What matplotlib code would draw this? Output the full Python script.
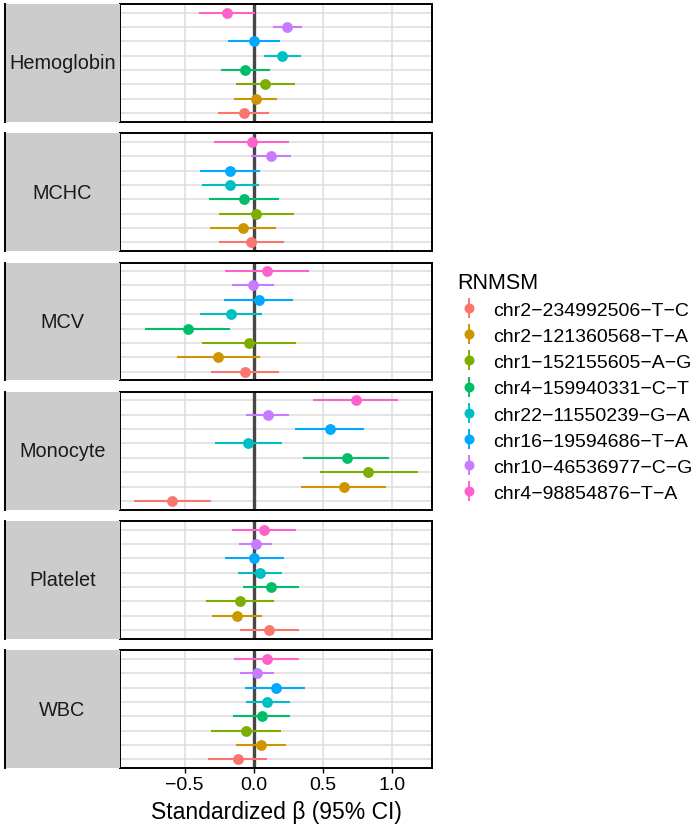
import numpy as np
import matplotlib
matplotlib.use('Agg')
import matplotlib.pyplot as plt
from matplotlib.lines import Line2D
from matplotlib.legend_handler import HandlerTuple

plt.rcParams['font.family'] = ['Liberation Sans', 'DejaVu Sans']

# rasgos (facetas) y variantes, de abajo hacia arriba dentro de cada panel
traits = ['Hemoglobin', 'MCHC', 'MCV', 'Monocyte', 'Platelet', 'WBC']
snps = ['chr2\u2212234992506\u2212T\u2212C', 'chr2\u2212121360568\u2212T\u2212A',
        'chr1\u2212152155605\u2212A\u2212G', 'chr4\u2212159940331\u2212C\u2212T',
        'chr22\u221211550239\u2212G\u2212A', 'chr16\u221219594686\u2212T\u2212A',
        'chr10\u221246536977\u2212C\u2212G', 'chr4\u221298854876\u2212T\u2212A']
colores = ['#F8766D', '#CD9600', '#7CAE00', '#00BE67',
           '#00BFC4', '#00A9FF', '#C77CFF', '#FF61CC']

# beta estandarizado, una fila por rasgo, una columna por variante
beta = [
    [-0.072, 0.012, 0.079, -0.063, 0.204, 0.000, 0.240, -0.195],
    [-0.019, -0.079, 0.017, -0.072, -0.171, -0.171, 0.123, -0.017],
    [-0.065, -0.260, -0.034, -0.474, -0.166, 0.034, -0.005, 0.094],
    [-0.589, 0.647, 0.827, 0.669, -0.043, 0.546, 0.099, 0.738],
    [0.111, -0.125, -0.099, 0.123, 0.043, 0.000, 0.012, 0.072],
    [-0.115, 0.053, -0.058, 0.055, 0.096, 0.156, 0.024, 0.094],
]
ic_inf = [
    [-0.257, -0.144, -0.132, -0.238, 0.072, -0.185, 0.139, -0.394],
    [-0.253, -0.315, -0.255, -0.325, -0.375, -0.390, -0.024, -0.289],
    [-0.313, -0.556, -0.373, -0.784, -0.387, -0.216, -0.156, -0.207],
    [-0.863, 0.339, 0.474, 0.354, -0.284, 0.296, -0.055, 0.430],
    [-0.103, -0.301, -0.344, -0.082, -0.113, -0.207, -0.106, -0.156],
    [-0.332, -0.132, -0.310, -0.154, -0.060, -0.063, -0.101, -0.142],
]
ic_sup = [
    [0.108, 0.168, 0.296, 0.113, 0.342, 0.188, 0.346, 0.007],
    [0.214, 0.159, 0.286, 0.178, 0.036, 0.046, 0.265, 0.250],
    [0.183, 0.043, 0.301, -0.171, 0.055, 0.279, 0.147, 0.397],
    [-0.313, 0.955, 1.183, 0.979, 0.200, 0.798, 0.250, 1.037],
    [0.322, 0.055, 0.147, 0.322, 0.200, 0.214, 0.132, 0.301],
    [0.096, 0.231, 0.192, 0.260, 0.257, 0.368, 0.144, 0.325],
]

W, H = 700, 828
fig = plt.figure(figsize=(W / 100, H / 100), dpi=100)

alto = 117.75
hueco = 11.5
x_panel, x_fin = 120, 432
x_tira = 5
y_pos = np.arange(1, len(snps) + 1)

for i, rasgo in enumerate(traits):
    top = 5 + i * (alto + hueco)
    abajo = 1 - (top + alto) / H
    ax = fig.add_axes([x_panel / W, abajo, (x_fin - x_panel) / W, alto / H])
    tira = fig.add_axes([x_tira / W, abajo, (x_panel - x_tira) / W, alto / H])

    # tira lateral gris con el nombre del rasgo
    tira.set_facecolor('#CCCCCC')
    tira.set_xticks([])
    tira.set_yticks([])
    for lado in ['top', 'right', 'bottom']:
        tira.spines[lado].set_visible(False)
    tira.spines['left'].set_linewidth(1.4)
    tira.text(0.5, 0.5, rasgo, ha='center', va='center', fontsize=14.3,
              color='#1A1A1A', transform=tira.transAxes)

    for k in range(len(snps)):
        ax.plot([ic_inf[i][k], ic_sup[i][k]], [y_pos[k], y_pos[k]],
                color=colores[k], lw=1.5, zorder=3, solid_capstyle='butt')
        ax.plot(beta[i][k], y_pos[k], 'o', color=colores[k], ms=7.8,
                zorder=4, mew=0)
    ax.axvline(0, color='#474747', lw=2.4, zorder=2)

    ax.set_xlim(-0.967, 1.286)
    ax.set_ylim(0.4, len(snps) + 0.6)
    ax.set_yticks(y_pos)
    ax.set_xticks([-0.5, 0.0, 0.5, 1.0])
    ax.grid(True, color='#DCDCDC', lw=1.1, zorder=0)
    ax.set_axisbelow(True)
    ax.tick_params(axis='y', left=False, labelleft=False)
    for s in ax.spines.values():
        s.set_linewidth(1.4)
        s.set_color('black')
    if i < len(traits) - 1:
        ax.tick_params(axis='x', bottom=False, labelbottom=False)
    else:
        ax.tick_params(axis='x', length=3.5, width=1.0, pad=2,
                       labelsize=14, labelcolor='black')
        ax.set_xlabel('Standardized \u03b2 (95% CI)', fontsize=16.5, labelpad=5)

manejadores = [(Line2D([], [], color=c, marker='|', ms=15, mew=1.4, ls='none'),
                Line2D([], [], color=c, marker='o', ms=7.2, mew=0, ls='none'))
               for c in colores]
leg = fig.legend(manejadores, snps, loc='upper left',
                 bbox_to_anchor=(449 / W, 1 - 265 / H),
                 handler_map={tuple: HandlerTuple(ndivide=1)},
                 frameon=False, borderpad=0.4, borderaxespad=0,
                 handlelength=1.25, handletextpad=0.6, labelspacing=0.44,
                 fontsize=14, title='RNMSM', title_fontsize=15.5,
                 alignment='left')

plt.savefig('out.png', dpi=100)
